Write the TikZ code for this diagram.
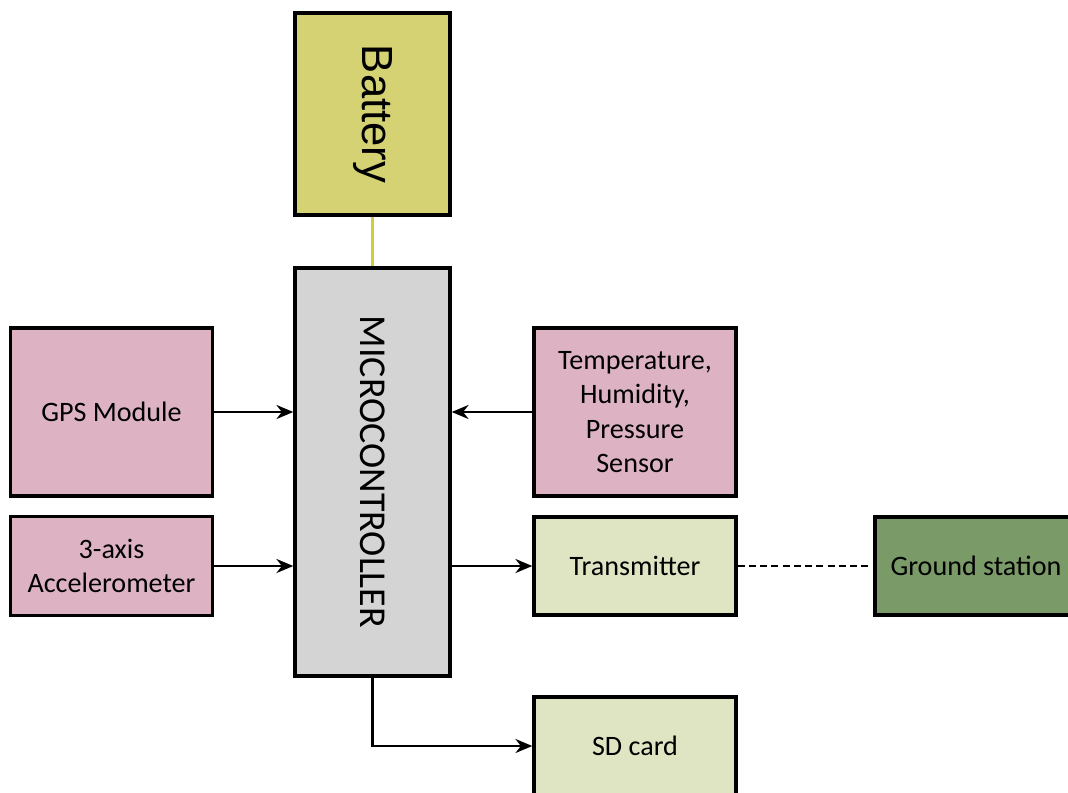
\documentclass[tikz,border=0pt]{standalone}
\usepackage{fontspec}
\setmainfont{Carlito}
\newfontfamily\batfont{Liberation Sans}
\usepackage{xcolor}
\usepackage{tikz}
\usetikzlibrary{arrows.meta}
\definecolor{batcol}{RGB}{212,210,115}
\definecolor{wirecol}{RGB}{210,204,60}
\definecolor{mcucol}{RGB}{212,212,212}
\definecolor{sensecol}{RGB}{221,179,196}
\definecolor{outcol}{RGB}{223,228,195}
\definecolor{gscol}{RGB}{122,154,104}
\tikzset{blk/.style={rectangle,draw,line width=2.4pt,align=center,inner sep=0pt,font=\fontsize{20}{24.5}\selectfont},
  sense/.style={blk,fill=sensecol,minimum width=5.05cm},
  outbox/.style={blk,fill=outcol,minimum width=5.05cm,minimum height=2.45cm},
  link/.style={line width=1.6pt}}

\begin{document}
\begin{tikzpicture}[x=0.025cm,y=-0.025cm,>={Stealth[length=12pt,width=10pt]}]
    \useasboundingbox (0,0) rectangle (1068,792);
    \clip (0,0) rectangle (1068,792);
    \node[blk,fill=batcol,minimum width=3.875cm,minimum height=5.05cm] (bat) at (372.5,114) {\rotatebox{-90}{\batfont\fontsize{31}{36}\selectfont Battery}};
    \node[blk,fill=mcucol,minimum width=3.875cm,minimum height=10.2cm] (mcu) at (372.5,472) {\rotatebox{-90}{\fontsize{27}{32}\selectfont MICROCONTROLLER}};
    \node[sense,minimum height=4.2cm] (gps) at (111.5,412) {GPS Module};
    \node[sense,minimum height=2.475cm] (acc) at (111.5,566) {3-axis\\Accelerometer};
    \node[sense,minimum height=4.2cm] (thp) at (635,412) {Temperature,\\Humidity,\\Pressure\\Sensor};
    \node[outbox] (tx) at (635,566) {Transmitter};
    \node[outbox,fill=gscol] (gs) at (976,566) {Ground station};
    \node[outbox] (sd) at (635,746) {SD card};

    \draw [link,wirecol] (bat) to (mcu);
    \draw [link,->] (gps.east) to (gps.east -| mcu.west);
    \draw [link,->] (thp.west) to (thp.west -| mcu.east);
    \draw [link,->] (acc.east) to (acc.east -| mcu.west);
    \draw [link,->] (tx.west -| mcu.east) to (tx.west);
    \draw [link,dashed,dash pattern=on 5pt off 3pt] (tx) to (gs);
    \draw [link,->] (mcu.south) |- (sd.west);
\end{tikzpicture}
\end{document}
